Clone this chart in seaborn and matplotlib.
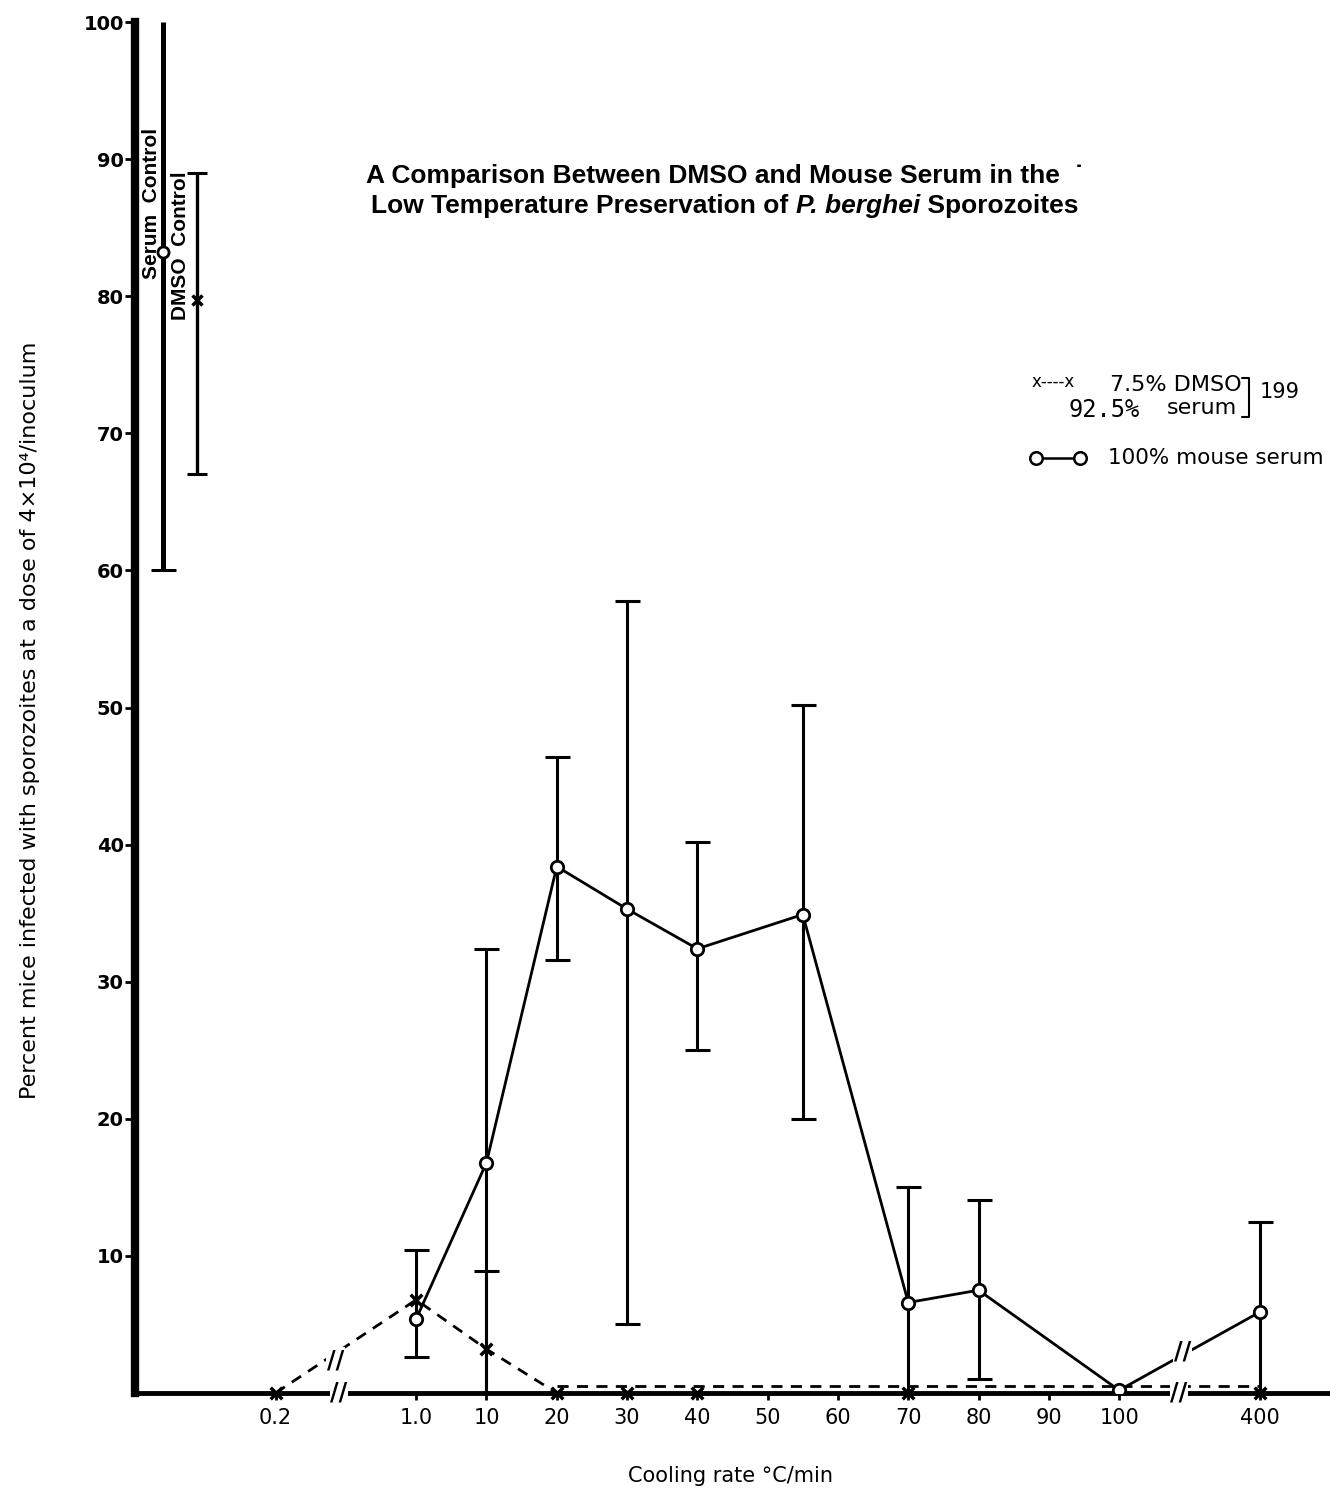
import numpy as np
import pandas as pd
import matplotlib
matplotlib.use("Agg")
import matplotlib.pyplot as plt
import matplotlib.transforms as mtransforms
import seaborn as sns

# broken x axis: cooling rate (°C/min) -> slot on the axis
scale_rates = [0.2, 1.0, 10, 100, 400]
scale_slots = [2, 4, 5, 14, 16]
tick_rates = [0.2, 1.0, 10, 20, 30, 40, 50, 60, 70, 80, 90, 100, 400]
tick_labels = ['0.2', '1.0', '10', '20', '30', '40', '50', '60', '70', '80', '90', '100', '400']

# 100% mouse serum
serum_rate = [1.0, 10, 20, 30, 40, 55, 70, 80, 100, 400]
serum_pct = [5.4, 16.8, 38.4, 35.3, 32.4, 34.9, 6.6, 7.5, 0.2, 5.9]
serum_lo = [2.6, 0, 31.6, 5.0, 25.0, 20.0, 0, 1.0, np.nan, 0]
serum_hi = [10.4, 32.4, 46.4, 57.8, 40.2, 50.2, 15.0, 14.1, np.nan, 12.5]

# 7.5% DMSO / 92.5% serum 199
dmso_rate = [0.2, 1.0, 10, 20, 30, 40, 70, 400]
dmso_pct = [0, 6.8, 3.2, 0, 0, 0, 0, 0]
dmso_lo = [np.nan, np.nan, 0, np.nan, np.nan, np.nan, np.nan, np.nan]
dmso_hi = [np.nan, np.nan, 8.9, np.nan, np.nan, np.nan, np.nan, np.nan]

# controls (unfrozen)
ctrl_names = ['Serum  Control', 'DMSO  Control']
ctrl_slot = [0.4, 0.88]
ctrl_pct = [83.2, 79.7]
ctrl_lo = [60, 67]
ctrl_hi = [100, 89]


def to_slot(r):
    return np.interp(r, scale_rates, scale_slots)


serum = pd.DataFrame({'slot': to_slot(serum_rate), 'pct': serum_pct,
                      'lo': serum_lo, 'hi': serum_hi})
dmso = pd.DataFrame({'slot': to_slot(dmso_rate), 'pct': dmso_pct,
                     'lo': dmso_lo, 'hi': dmso_hi})

sns.set_style("ticks")
plt.rcParams['font.family'] = ['DejaVu Sans']
for k in ['text.color', 'axes.labelcolor', 'xtick.color', 'ytick.color', 'axes.edgecolor']:
    plt.rcParams[k] = 'black'

HEAD = ['Liberation Sans', 'DejaVu Sans']

fig = plt.figure(figsize=(13.3, 14.93), dpi=100)
ax = fig.add_axes([135 / 1330, 100 / 1493, 1 - 135 / 1330, (1393 - 22) / 1493])
ax.set_xlim(0, 17)
ax.set_ylim(0, 100)

# error bars
for d in (serum, dmso):
    e = d.dropna()
    ax.errorbar(e['slot'], e['pct'], yerr=[e['pct'] - e['lo'], e['hi'] - e['pct']],
                fmt='none', ecolor='black', elinewidth=2.2, capsize=9, capthick=2.2, zorder=2)

# controls: serum bar runs up to the top without a cap
ax.vlines(ctrl_slot[0], ctrl_lo[0], ctrl_hi[0], color='black', lw=3.6, zorder=2)
ax.plot(ctrl_slot[0], ctrl_lo[0], '_', color='black', ms=18, mew=2.2)
ax.vlines(ctrl_slot[1], ctrl_lo[1], ctrl_hi[1], color='black', lw=2.4, zorder=2)
ax.plot([ctrl_slot[1]] * 2, [ctrl_lo[1], ctrl_hi[1]], '_', color='black', ms=14, mew=2.2)
ax.plot(ctrl_slot[0], ctrl_pct[0], 'o', mfc='white', mec='black', ms=8, mew=2, zorder=4)
ax.plot(ctrl_slot[1], ctrl_pct[1], 'x', color='black', ms=7, mew=2.5, zorder=4)
ax.text(0.23, 86.8, ctrl_names[0], rotation=90, ha='center', va='center',
        fontsize=15, fontweight='bold', family=HEAD)
ax.text(0.65, 83.7, ctrl_names[1], rotation=90, ha='center', va='center',
        fontsize=15, fontweight='bold', family=HEAD)

# serum line
sns.lineplot(data=serum, x='slot', y='pct', color='black', lw=2, sort=False,
             errorbar=None, ax=ax, zorder=3)
sns.scatterplot(data=serum, x='slot', y='pct', marker='o', s=80, color='white',
                edgecolor='black', linewidth=2, ax=ax, zorder=5)

# DMSO line: rising part on the axis, then flat part drawn just above the axis
rise = dmso.iloc[:4]
flat = dmso.iloc[3:]
sns.lineplot(data=rise, x='slot', y='pct', color='black', lw=2, sort=False,
             errorbar=None, ax=ax, zorder=3, linestyle=(0, (4, 3)))
lift = ax.transData + mtransforms.ScaledTranslation(0, 5 / 72, fig.dpi_scale_trans)
ax.plot(flat['slot'], flat['pct'], color='black', lw=2, linestyle=(0, (4, 3)),
        transform=lift, zorder=3)
sns.scatterplot(data=dmso, x='slot', y='pct', marker='x', s=70, color='black',
                linewidth=2.5, ax=ax, zorder=6, clip_on=False)

# axes styling
sns.despine(ax=ax)
ax.spines['left'].set_linewidth(6)
ax.spines['bottom'].set_linewidth(3.5)
ax.set_xticks(to_slot(tick_rates))
ax.set_xticklabels(tick_labels, fontsize=15)
ax.set_yticks(range(10, 101, 10))
ax.set_yticklabels([str(v) for v in range(10, 101, 10)], fontsize=14, fontweight='bold')
ax.tick_params(axis='y', length=7, width=2, pad=1)
ax.tick_params(axis='x', length=5, width=2, pad=6)
ax.set_xlabel('')
ax.set_ylabel('')

# axis / line breaks
for bx, by in [(2.9, 0), (14.85, 0), (2.85, 2.4), (14.9, 3.0)]:
    ax.text(bx, by, '//', ha='center', va='center', fontsize=17, fontweight='bold',
            bbox=dict(facecolor='white', edgecolor='none', pad=0.5), zorder=10, clip_on=False)

# titles and labels
fig.text(725 / 1330, 1 - 176 / 1493, 'A Comparison Between DMSO and Mouse Serum in the  \u02d9',
         ha='center', va='center', fontsize=19, fontweight='bold', family=HEAD)

renderer = fig.canvas.get_renderer()
pieces = [('Low Temperature Preservation of ', 'normal'), ('P. berghei', 'italic'),
          (' Sporozoites', 'normal')]
arts = [fig.text(0, 1 - 206 / 1493, s, ha='left', va='center', fontsize=19,
                 fontweight='bold', style=st, family=HEAD) for s, st in pieces]
widths = [a.get_window_extent(renderer).width for a in arts]
x0 = 725 - sum(widths) / 2
for a, w in zip(arts, widths):
    a.set_x(x0 / 1330)
    x0 += w

fig.text(30 / 1330, 1 - 720 / 1493,
         'Percent mice infected with sporozoites at a dose of 4\u00d710\u2074/inoculum',
         rotation=90, ha='center', va='center', fontsize=16)
fig.text(730 / 1330, 1 - 1476 / 1493, 'Cooling rate \u00b0C/min', ha='center', va='center',
         fontsize=15)

# legend
fig.text(1032 / 1330, 1 - 382 / 1493, 'x----x', ha='left', va='center', fontsize=12)
fig.text(1110 / 1330, 1 - 385 / 1493, '7.5% DMSO', ha='left', va='center', fontsize=16)
fig.text(1068 / 1330, 1 - 410 / 1493, '92.5%', ha='left', va='center', fontsize=17,
         family=['DejaVu Sans Mono'])
fig.text(1167 / 1330, 1 - 408 / 1493, 'serum', ha='left', va='center', fontsize=16)
fig.add_artist(plt.Line2D([1242 / 1330, 1249 / 1330, 1249 / 1330, 1242 / 1330],
                          [1 - 378 / 1493, 1 - 378 / 1493, 1 - 417 / 1493, 1 - 417 / 1493],
                          color='black', lw=1.5))
fig.text(1260 / 1330, 1 - 392 / 1493, '199', ha='left', va='center', fontsize=15)
fig.add_artist(plt.Line2D([1036 / 1330, 1080 / 1330], [1 - 458 / 1493, 1 - 458 / 1493],
                          color='black', lw=1.8, marker='o', ms=9, mfc='white', mec='black',
                          mew=1.8))
fig.text(1108 / 1330, 1 - 458 / 1493, '100% mouse serum', ha='left', va='center', fontsize=15.5)

fig.savefig('out.png', dpi=100, facecolor='white')
